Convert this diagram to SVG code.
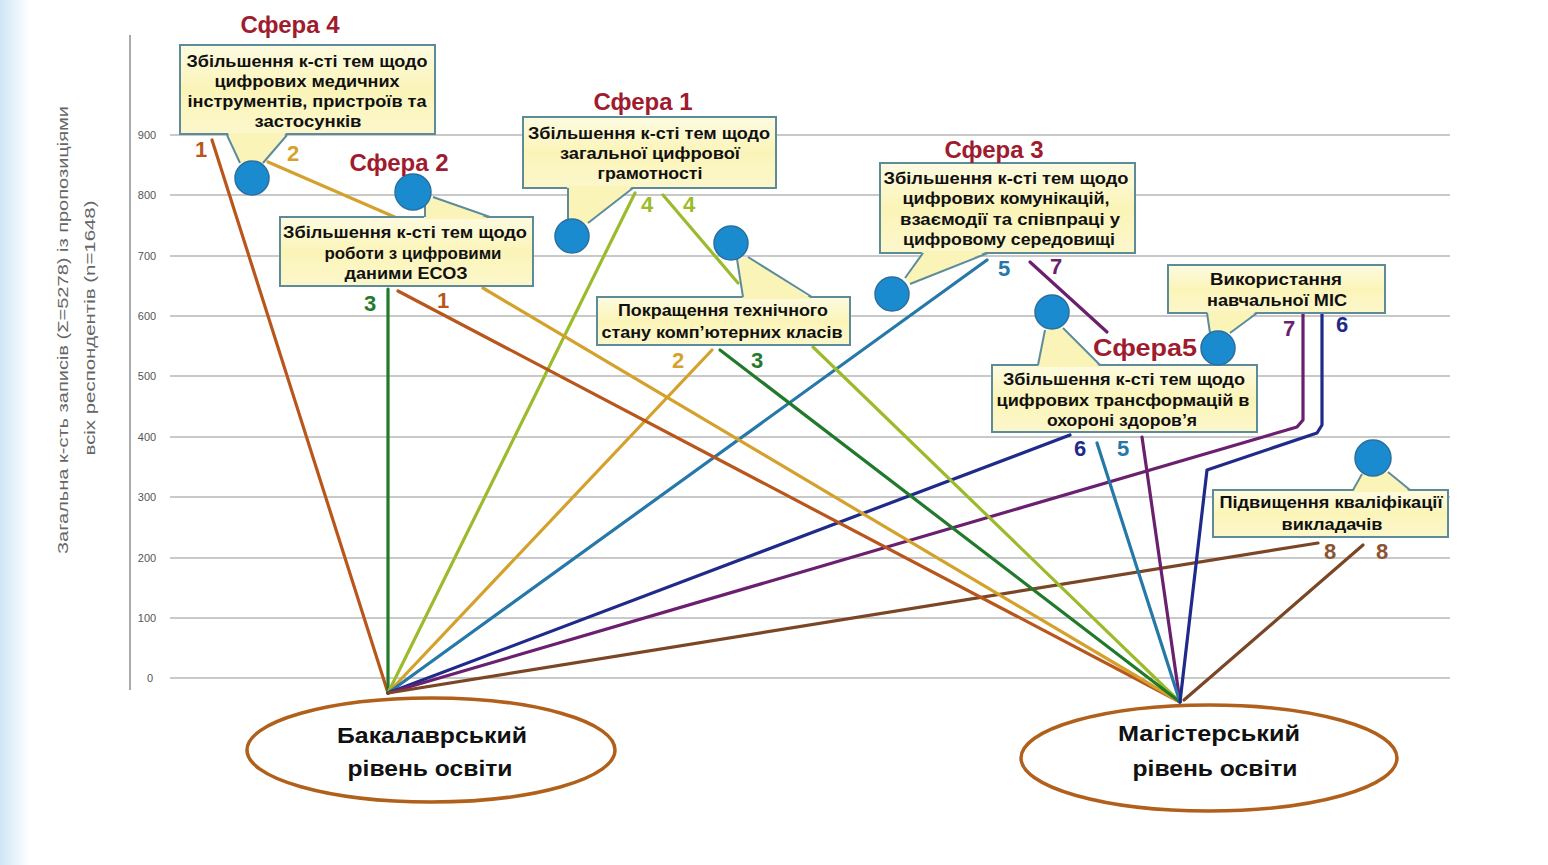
<svg xmlns="http://www.w3.org/2000/svg" width="1548" height="865" viewBox="0 0 1548 865">
<defs>
<linearGradient id="edge" x1="0" y1="0" x2="1" y2="0">
<stop offset="0" stop-color="#cfe6f6"/>
<stop offset="1" stop-color="#ffffff"/>
</linearGradient>
<linearGradient id="boxfill" x1="0" y1="0" x2="0" y2="1">
<stop offset="0" stop-color="#fdfbe2"/>
<stop offset="0.5" stop-color="#fbf4b8"/>
<stop offset="1" stop-color="#fcf7cc"/>
</linearGradient>
</defs>
<style>
.grid{stroke:#c9c9c9;stroke-width:2}
.tick{font-family:"Liberation Sans",Arial,sans-serif;font-size:11px;fill:#555;text-anchor:middle}
.ytitle{font-family:"Liberation Sans",Arial,sans-serif;font-size:15px;fill:#666;text-anchor:middle}
.box{fill:url(#boxfill);stroke:#5d8c98;stroke-width:2}
.ptr{fill:#fbf4b8;stroke:none}
.pl{stroke:#5d8c98;stroke-width:2;fill:none}
.dot{fill:#1b8bcf;stroke:#2a6f9f;stroke-width:1.5}
.bt{font-family:"Liberation Sans",Arial,sans-serif;font-size:16px;font-weight:bold;fill:#111;text-anchor:middle}
.sf{font-family:"Liberation Sans",Arial,sans-serif;font-size:24px;font-weight:bold;fill:#9e1c2e;text-anchor:middle}
.num{font-family:"Liberation Sans",Arial,sans-serif;font-size:22px;font-weight:bold;text-anchor:middle}
.ell{fill:#ffffff;stroke:#b0601a;stroke-width:3.5}
.et{font-family:"Liberation Sans",Arial,sans-serif;font-size:22px;font-weight:bold;fill:#111;text-anchor:middle}
.c{fill:none;stroke-width:3.2;stroke-linecap:round;stroke-linejoin:round}
.c1{stroke:#b8561b}.c2{stroke:#d4a22c}.c3{stroke:#217a2b}.c4{stroke:#9cbb2c}
.c5{stroke:#2578a8}.c6{stroke:#1f2a8a}.c7{stroke:#6a1f6f}.c8{stroke:#7a4626}
.n1{fill:#b8561b}.n2{fill:#d4a22c}.n3{fill:#217a2b}.n4{fill:#9cbb2c}
.n5{fill:#2578a8}.n6{fill:#1f2a8a}.n7{fill:#6a1f6f}.n8{fill:#8a5530}
</style>
<rect x="0" y="0" width="1548" height="865" fill="#ffffff"/>
<rect x="0" y="0" width="30" height="865" fill="url(#edge)"/>

<g id="axis">
<line x1="130" y1="35" x2="130" y2="690" stroke="#aaaaaa" stroke-width="2"/>
<line class="grid" x1="170" y1="135" x2="1450" y2="135"/>
<line class="grid" x1="170" y1="195" x2="1450" y2="195"/>
<line class="grid" x1="170" y1="256" x2="1450" y2="256"/>
<line class="grid" x1="170" y1="316" x2="1450" y2="316"/>
<line class="grid" x1="170" y1="376" x2="1450" y2="376"/>
<line class="grid" x1="170" y1="437" x2="1450" y2="437"/>
<line class="grid" x1="170" y1="497" x2="1450" y2="497"/>
<line class="grid" x1="170" y1="558" x2="1450" y2="558"/>
<line class="grid" x1="170" y1="618" x2="1450" y2="618"/>
<line class="grid" x1="170" y1="678" x2="1450" y2="678"/>
<text class="tick" x="147" y="139">900</text>
<text class="tick" x="147" y="199">800</text>
<text class="tick" x="147" y="260">700</text>
<text class="tick" x="147" y="320">600</text>
<text class="tick" x="147" y="380">500</text>
<text class="tick" x="147" y="441">400</text>
<text class="tick" x="147" y="501">300</text>
<text class="tick" x="147" y="562">200</text>
<text class="tick" x="147" y="622">100</text>
<text class="tick" x="150" y="682">0</text>
<text class="ytitle" transform="translate(68,330) rotate(-90)" textLength="448" lengthAdjust="spacingAndGlyphs">Загальна к-сть записів (Σ=5278) із пропозиціями</text>
<text class="ytitle" transform="translate(95,328) rotate(-90)" textLength="255" lengthAdjust="spacingAndGlyphs">всіх респондентів (n=1648)</text>
</g>

<g id="connectors">
<polyline class="c c1" points="388,693 212,140"/>
<polyline class="c c3" points="388,693 388,289"/>
<polyline class="c c4" points="388,693 635,193"/>
<polyline class="c c2" points="388,693 712,350"/>
<polyline class="c c5" points="388,693 987,260"/>
<polyline class="c c6" points="388,693 1070,435"/>
<polyline class="c c7" points="388,693 1297,427 1303,420 1303,312"/>
<polyline class="c c8" points="388,693 1318,543"/>
<polyline class="c c1" points="1180,702 398,291"/>
<polyline class="c c2" points="268,162 397,218"/>
<polyline class="c c2" points="1180,702 483,288"/>
<polyline class="c c4" points="663,195 738,283"/>
<polyline class="c c4" points="1180,702 813,347"/>
<polyline class="c c3" points="1180,702 720,350"/>
<polyline class="c c7" points="1030,262 1107,332"/>
<polyline class="c c7" points="1180,702 1142,437"/>
<polyline class="c c5" points="1180,702 1097,443"/>
<polyline class="c c6" points="1180,702 1207,470 1317,433 1322,425 1322,311"/>
<polyline class="c c8" points="1184,700 1363,545"/>
</g>

<g id="sphere4">
<rect class="box" x="180" y="45" width="255" height="89"/>
<polygon class="ptr" points="228,133 286,133 263,163 240,163"/>
<line class="pl" x1="227" y1="135" x2="240" y2="163"/>
<line class="pl" x1="287" y1="135" x2="263" y2="163"/>
<circle class="dot" cx="252" cy="178" r="17"/>
<text class="sf" x="290" y="33">Сфера 4</text>
<text class="bt" x="307" y="67" textLength="241" lengthAdjust="spacingAndGlyphs">Збільшення к-сті тем щодо</text>
<text class="bt" x="307" y="87" textLength="185" lengthAdjust="spacingAndGlyphs">цифрових медичних</text>
<text class="bt" x="307" y="107" textLength="239" lengthAdjust="spacingAndGlyphs">інструментів, пристроїв та</text>
<text class="bt" x="308" y="127" textLength="107" lengthAdjust="spacingAndGlyphs">застосунків</text>
<text class="num n1" x="201" y="157">1</text>
<text class="num n2" x="293" y="161">2</text>
</g>

<g id="sphere2">
<rect class="box" x="280" y="217" width="253" height="69"/>
<polygon class="ptr" points="424,219 490,219 433,197 424,205"/>
<line class="pl" x1="425" y1="205" x2="425" y2="217"/>
<line class="pl" x1="433" y1="197" x2="490" y2="217"/>
<circle class="dot" cx="413" cy="192" r="18"/>
<text class="sf" x="399" y="171">Сфера 2</text>
<text class="bt" x="405" y="238" textLength="244" lengthAdjust="spacingAndGlyphs">Збільшення к-сті тем щодо</text>
<text class="bt" x="413" y="259" textLength="177" lengthAdjust="spacingAndGlyphs">роботи з цифровими</text>
<text class="bt" x="406" y="279" textLength="123" lengthAdjust="spacingAndGlyphs">даними ЕСОЗ</text>
<text class="num n3" x="370" y="311">3</text>
<text class="num n1" x="443" y="308">1</text>
</g>

<g id="sphere1">
<rect class="box" x="523" y="117" width="253" height="71"/>
<polygon class="ptr" points="567,186 633,186 588,224 568,219"/>
<line class="pl" x1="568" y1="219" x2="568" y2="188"/>
<line class="pl" x1="588" y1="223" x2="633" y2="188"/>
<circle class="dot" cx="572" cy="236" r="17"/>
<text class="sf" x="643" y="110">Сфера 1</text>
<text class="bt" x="649" y="139" textLength="242" lengthAdjust="spacingAndGlyphs">Збільшення к-сті тем щодо</text>
<text class="bt" x="650" y="159" textLength="180" lengthAdjust="spacingAndGlyphs">загальної цифрової</text>
<text class="bt" x="650" y="179" textLength="105" lengthAdjust="spacingAndGlyphs">грамотності</text>
<text class="num n4" x="647" y="212">4</text>
<text class="num n4" x="689" y="212">4</text>
</g>

<g id="tech">
<rect class="box" x="597" y="297" width="253" height="48"/>
<polygon class="ptr" points="743,299 812,299 748,257 737,259"/>
<line class="pl" x1="737" y1="259" x2="743" y2="297"/>
<line class="pl" x1="748" y1="257" x2="812" y2="297"/>
<circle class="dot" cx="731" cy="243" r="17"/>
<text class="bt" x="723" y="316" textLength="210" lengthAdjust="spacingAndGlyphs">Покращення технічного</text>
<text class="bt" x="722" y="338" textLength="241" lengthAdjust="spacingAndGlyphs">стану комп’ютерних класів</text>
<text class="num n2" x="678" y="368">2</text>
<text class="num n3" x="757" y="368">3</text>
</g>

<g id="sphere3">
<rect class="box" x="880" y="163" width="255" height="90"/>
<polygon class="ptr" points="923,251 988,251 910,284 905,278"/>
<line class="pl" x1="905" y1="278" x2="923" y2="253"/>
<line class="pl" x1="910" y1="284" x2="988" y2="253"/>
<circle class="dot" cx="892" cy="294" r="17"/>
<text class="sf" x="994" y="158">Сфера 3</text>
<text class="bt" x="1006" y="184" textLength="245" lengthAdjust="spacingAndGlyphs">Збільшення к-сті тем щодо</text>
<text class="bt" x="1006" y="204" textLength="207" lengthAdjust="spacingAndGlyphs">цифрових комунікацій,</text>
<text class="bt" x="1010" y="225" textLength="220" lengthAdjust="spacingAndGlyphs">взаємодії та співпраці у</text>
<text class="bt" x="1009" y="245" textLength="212" lengthAdjust="spacingAndGlyphs">цифровому середовищі</text>
<text class="num n5" x="1004" y="276">5</text>
<text class="num n7" x="1056" y="274">7</text>
</g>

<g id="sphere5">
<rect class="box" x="992" y="365" width="265" height="67"/>
<polygon class="ptr" points="1038,367 1100,367 1063,328 1045,330"/>
<line class="pl" x1="1045" y1="330" x2="1038" y2="365"/>
<line class="pl" x1="1063" y1="328" x2="1100" y2="365"/>
<circle class="dot" cx="1052" cy="312" r="17"/>
<text class="sf" x="1145" y="356" textLength="104" lengthAdjust="spacingAndGlyphs">Сфера5</text>
<text class="bt" x="1124" y="385" textLength="242" lengthAdjust="spacingAndGlyphs">Збільшення к-сті тем щодо</text>
<text class="bt" x="1123" y="406" textLength="253" lengthAdjust="spacingAndGlyphs">цифрових трансформацій в</text>
<text class="bt" x="1122" y="426" textLength="150" lengthAdjust="spacingAndGlyphs">охороні здоров’я</text>
<text class="num n6" x="1080" y="456">6</text>
<text class="num n5" x="1123" y="456">5</text>
</g>

<g id="mis">
<rect class="box" x="1168" y="265" width="217" height="48"/>
<polygon class="ptr" points="1207,311 1257,311 1230,333 1210,333"/>
<line class="pl" x1="1210" y1="333" x2="1207" y2="313"/>
<line class="pl" x1="1230" y1="333" x2="1257" y2="313"/>
<circle class="dot" cx="1218" cy="348" r="17"/>
<text class="bt" x="1276" y="285" textLength="132" lengthAdjust="spacingAndGlyphs">Використання</text>
<text class="bt" x="1277" y="306" textLength="140" lengthAdjust="spacingAndGlyphs">навчальної МІС</text>
<text class="num n7" x="1289" y="336">7</text>
<text class="num n6" x="1342" y="332">6</text>
</g>

<g id="qual">
<rect class="box" x="1213" y="490" width="235" height="47"/>
<polygon class="ptr" points="1353,492 1410,492 1388,472 1362,474"/>
<line class="pl" x1="1362" y1="474" x2="1353" y2="490"/>
<line class="pl" x1="1388" y1="472" x2="1410" y2="490"/>
<circle class="dot" cx="1373" cy="458" r="18"/>
<text class="bt" x="1331" y="508" textLength="223" lengthAdjust="spacingAndGlyphs">Підвищення кваліфікації</text>
<text class="bt" x="1332" y="530" textLength="101" lengthAdjust="spacingAndGlyphs">викладачів</text>
<text class="num n8" x="1330" y="559">8</text>
<text class="num n8" x="1382" y="559">8</text>
</g>

<g id="bachelor">
<ellipse class="ell" cx="431" cy="750" rx="184" ry="52"/>
<text class="et" x="432" y="743" textLength="190" lengthAdjust="spacingAndGlyphs">Бакалаврський</text>
<text class="et" x="430" y="776" textLength="165" lengthAdjust="spacingAndGlyphs">рівень освіти</text>
</g>

<g id="master">
<ellipse class="ell" cx="1209" cy="758" rx="188" ry="53"/>
<text class="et" x="1209" y="741" textLength="182" lengthAdjust="spacingAndGlyphs">Магістерський</text>
<text class="et" x="1215" y="776" textLength="165" lengthAdjust="spacingAndGlyphs">рівень освіти</text>
</g>
</svg>
